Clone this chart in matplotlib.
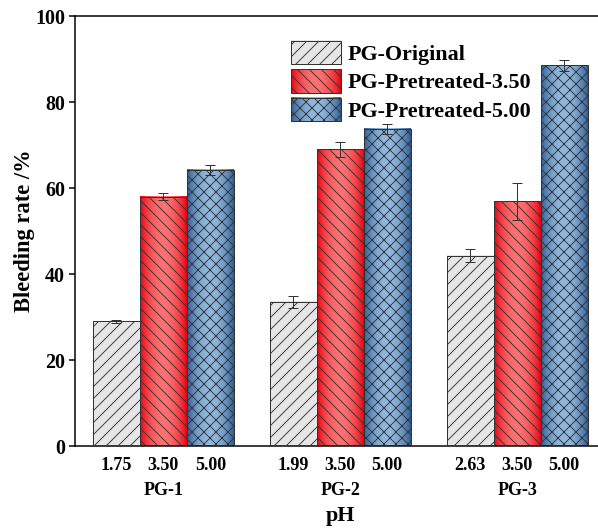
import matplotlib
matplotlib.use("Agg")
import matplotlib.pyplot as plt
import numpy as np
from matplotlib.colors import LinearSegmentedColormap

plt.rcParams['font.family'] = 'Liberation Serif'
plt.rcParams['font.weight'] = 'bold'
plt.rcParams['hatch.linewidth'] = 0.9

groups = ['PG-1', 'PG-2', 'PG-3']
series = ['PG-Original', 'PG-Pretreated-3.50', 'PG-Pretreated-5.00']
ph_labels = [['1.75', '3.50', '5.00'],
             ['1.99', '3.50', '5.00'],
             ['2.63', '3.50', '5.00']]

original = [29.0, 33.5, 44.2]
original_err = [0.4, 1.3, 1.5]
pre_350 = [58.0, 69.0, 56.9]
pre_350_err = [0.9, 1.7, 4.3]
pre_500 = [64.2, 73.8, 88.5]
pre_500_err = [1.2, 1.2, 1.3]

values = [original, pre_350, pre_500]
errors = [original_err, pre_350_err, pre_500_err]
hatches = ['//', '\\\\', 'xx']

# edge -> centre colour of each bar's horizontal shading
shades = [('#e6e6e6', '#e6e6e6'),
          ('#e8000e', '#ff7070'),
          ('#2d5c92', '#90b8df')]
cmaps = [LinearSegmentedColormap.from_list('s%d' % i, list(s)) for i, s in enumerate(shades)]

prof = np.sin(np.linspace(0, np.pi, 64)) ** 0.8
grad = prof[np.newaxis, :]

dpi = 72
fig = plt.figure(figsize=(598 / dpi, 528 / dpi), dpi=dpi)
ax = fig.add_axes([75 / 598, 82 / 528, 535 / 598, 430 / 528])

x = np.arange(len(groups))
width = 0.2655
edge = '#333333'

centers = []
for i in range(3):
    pos = x + (i - 1) * width
    for xp, v in zip(pos, values[i]):
        ax.imshow(grad, cmap=cmaps[i], vmin=0, vmax=1, aspect='auto',
                  extent=[xp - width / 2, xp + width / 2, 0, v], zorder=2,
                  interpolation='bilinear')
    ax.bar(pos, values[i], width, facecolor='none', edgecolor=edge,
           hatch=hatches[i], linewidth=1.0, zorder=3, label=series[i])
    ax.errorbar(pos, values[i], yerr=errors[i], fmt='none', ecolor=edge,
                elinewidth=1.0, capsize=5, capthick=1.0, zorder=4)
    centers.append(pos)

ax.set_xlim(-0.5, 2.525)
ax.set_ylim(0, 100)

tick_pos = np.sort(np.concatenate(centers))
tick_lab = [l for g in ph_labels for l in g]
ax.set_xticks(tick_pos)
ax.set_xticklabels(tick_lab, fontsize=18, fontweight='bold')
ax.tick_params(axis='x', length=0, pad=11)
ax.set_yticks(np.arange(0, 101, 20))
ax.tick_params(axis='y', direction='out', length=6, width=1.5, labelsize=20, pad=4)
for lab in ax.get_yticklabels():
    lab.set_fontweight('bold')

for gx, g in zip(x, groups):
    ax.text(gx, -0.103, g, transform=ax.get_xaxis_transform(), ha='center',
            va='center', fontsize=18, fontweight='bold')
ax.text(x[1], -0.163, 'pH', transform=ax.get_xaxis_transform(), ha='center',
        va='center', fontsize=22, fontweight='bold')
ax.set_ylabel('Bleeding rate /%', fontsize=22.5, fontweight='bold', labelpad=0)

for sp in ax.spines.values():
    sp.set_linewidth(1.5)

leg = ax.legend(loc='upper left', bbox_to_anchor=(216 / 535, 1 - 25 / 430),
                frameon=False, fontsize=22, handlelength=2.27, handleheight=1.25,
                handletextpad=0.3, labelspacing=0.2, borderpad=0, borderaxespad=0)

# shade the legend keys the same way as the bars
fig.canvas.draw()
inv = ax.transData.inverted()
for i, p in enumerate(leg.get_patches()):
    bb = p.get_window_extent()
    (x0, y0), (x1, y1) = inv.transform([[bb.x0, bb.y0], [bb.x1, bb.y1]])
    ax.imshow(grad, cmap=cmaps[i], vmin=0, vmax=1, aspect='auto',
              extent=[x0, x1, y0, y1], zorder=4.5, interpolation='bilinear')
ax.set_xlim(-0.5, 2.525)
ax.set_ylim(0, 100)

fig.savefig('out.png', dpi=dpi)
